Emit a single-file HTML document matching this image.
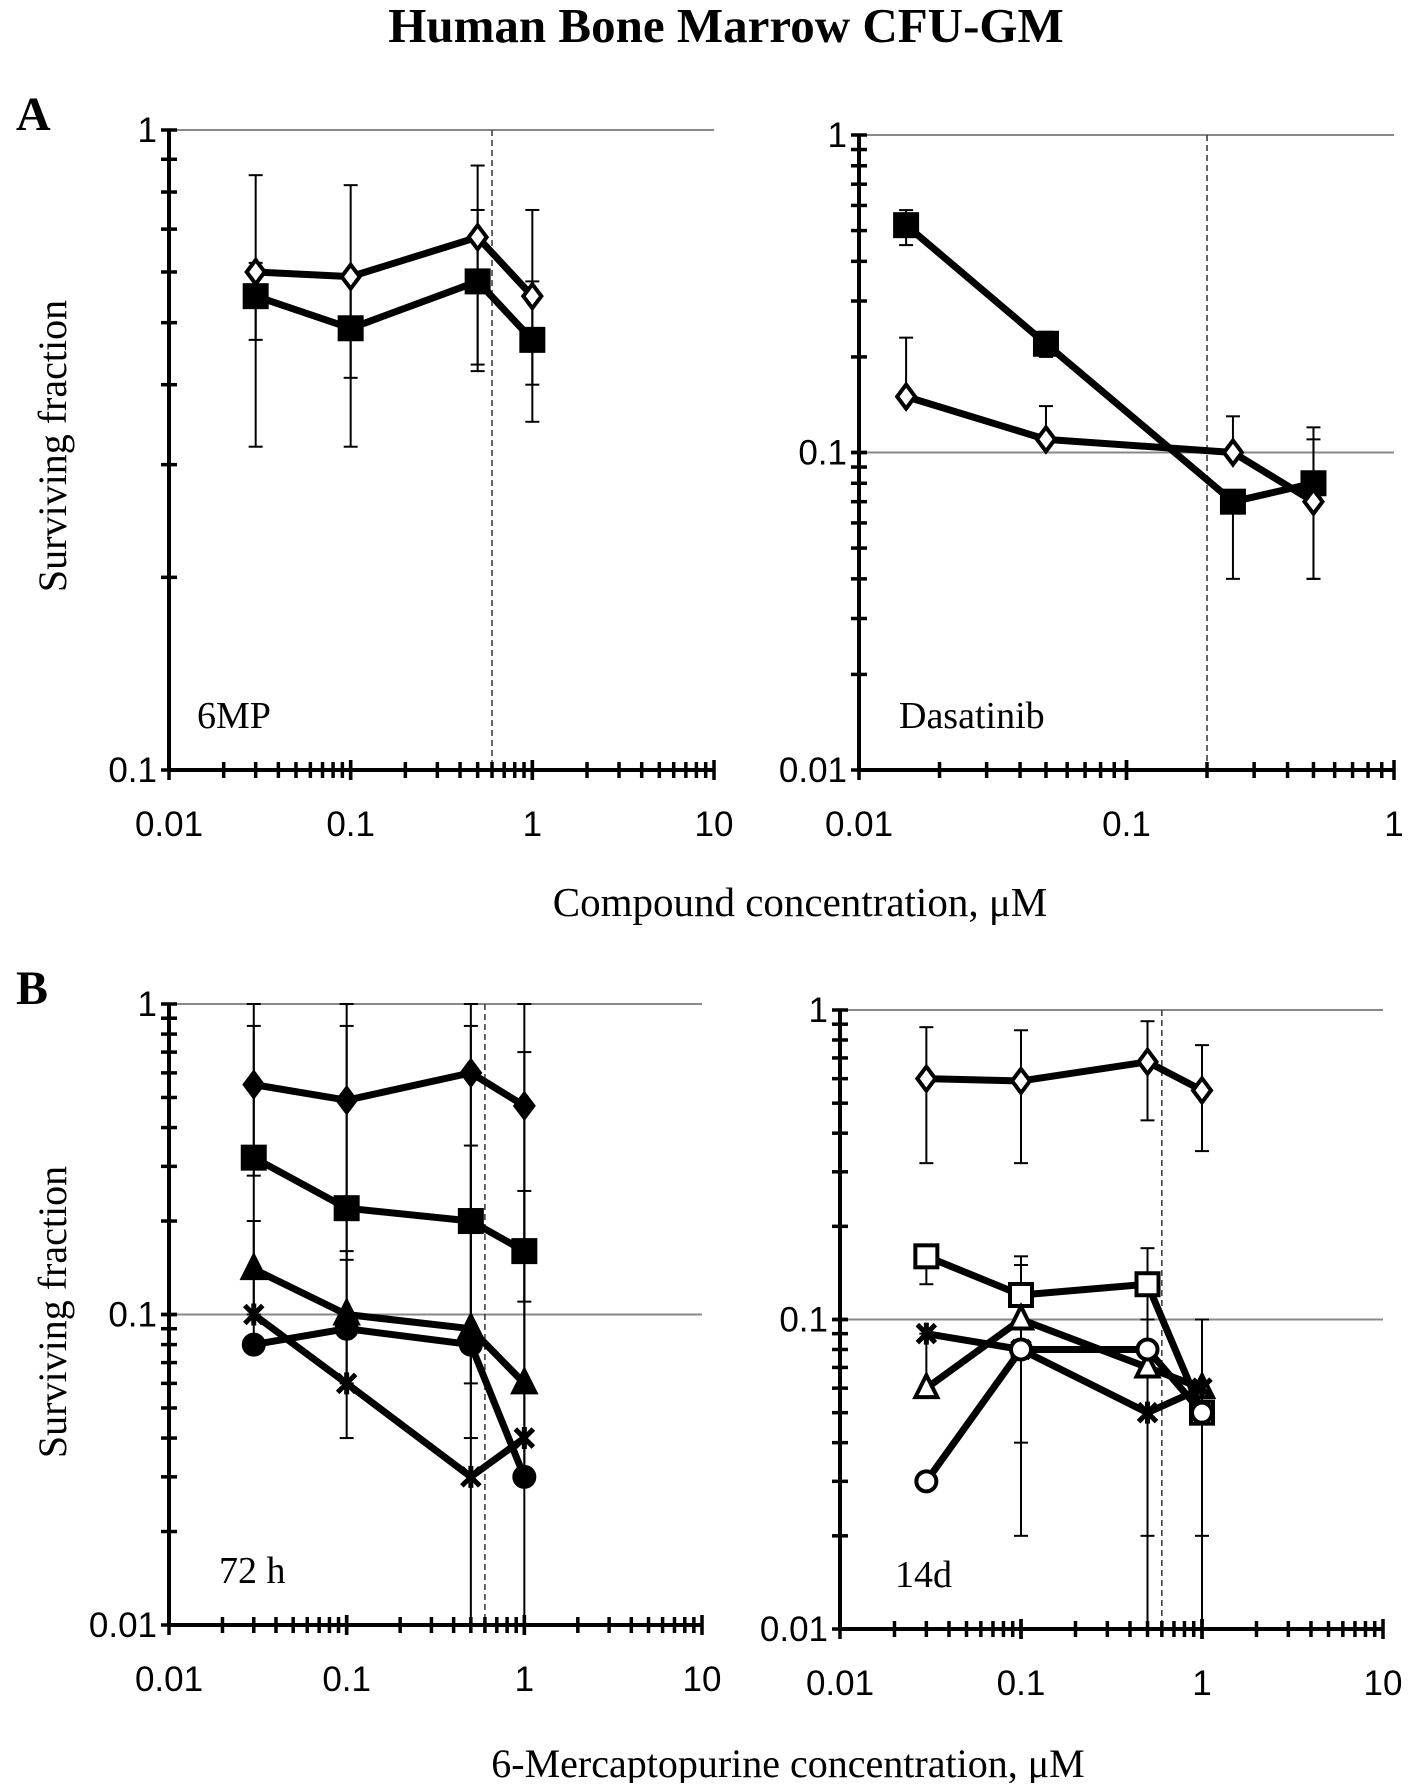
<!DOCTYPE html>
<html><head><meta charset="utf-8"><style>
body{margin:0;background:#fff}
svg text{font-family:"Liberation Sans",sans-serif}
.serif{font-family:"Liberation Serif",serif}
</style></head><body>
<svg id="fig" width="1417" height="1783" viewBox="0 0 1417 1783" xmlns="http://www.w3.org/2000/svg">
<text class="serif" x="726" y="42" text-anchor="middle" font-size="49" font-weight="bold">Human Bone Marrow CFU-GM</text>
<text class="serif" x="16" y="130" font-size="48" font-weight="bold">A</text>
<text class="serif" x="16" y="1004" font-size="48" font-weight="bold">B</text>
<text class="serif" transform="translate(66,446) rotate(-90)" text-anchor="middle" font-size="40">Surviving fraction</text>
<text class="serif" transform="translate(66,1312) rotate(-90)" text-anchor="middle" font-size="40">Surviving fraction</text>
<text class="serif" x="800" y="916" text-anchor="middle" font-size="41">Compound concentration, μM</text>
<text class="serif" x="788" y="1777" text-anchor="middle" font-size="40">6-Mercaptopurine concentration, μM</text>
</svg>
<script>
// Panel A left (6MP)
const aLeftX = [0.03, 0.1, 0.5, 1];
const aLeftDiamond = [0.60, 0.59, 0.68, 0.55];
const aLeftDiamondHi = [0.85, 0.82, 0.88, 0.75];
const aLeftDiamondLo = [0.32, 0.32, 0.42, 0.35];
const aLeftSquare = [0.55, 0.49, 0.58, 0.47];
const aLeftSquareHi = [0.62, 0.60, 0.75, 0.58];
const aLeftSquareLo = [0.47, 0.41, 0.43, 0.40];
// Panel A right (Dasatinib)
const aRightX = [0.015, 0.05, 0.25, 0.5];
const aRightSquare = [0.52, 0.22, 0.07, 0.08];
const aRightSquareHi = [0.58, 0.24, 0.07, 0.11];
const aRightSquareLo = [0.45, 0.20, 0.04, 0.04];
const aRightDiamond = [0.15, 0.11, 0.10, 0.07];
const aRightDiamondHi = [0.23, 0.14, 0.13, 0.12];
const aRightDiamondLo = [0.15, 0.11, 0.10, 0.04];
// Panel B left (72 h)
const bLeftX = [0.03, 0.1, 0.5, 1];
const bLeftDiamond = [0.55, 0.49, 0.60, 0.47];
const bLeftDiamondHi = [1, 1, 1, 1];
const bLeftDiamondLo = [0.08, 0.04, 0.01, 0.01];
const bLeftSquare = [0.32, 0.22, 0.20, 0.16];
const bLeftSquareHi = [0.85, 0.85, 0.85, 0.70];
const bLeftSquareLo = [0.28, 0.15, 0.04, 0.11];
const bLeftTriangle = [0.14, 0.10, 0.09, 0.06];
const bLeftTriangleHi = [0.20, 0.16, 0.35, 0.25];
const bLeftTriangleLo = [0.10, 0.06, 0.06, 0.03];
const bLeftStar = [0.10, 0.06, 0.03, 0.04];
const bLeftCircle = [0.08, 0.09, 0.08, 0.03];
// Panel B right (14d)
const bRightX = [0.03, 0.1, 0.5, 1];
const bRightDiamond = [0.60, 0.59, 0.68, 0.55];
const bRightDiamondHi = [0.88, 0.86, 0.92, 0.77];
const bRightDiamondLo = [0.32, 0.32, 0.44, 0.35];
const bRightSquare = [0.16, 0.12, 0.13, 0.05];
const bRightSquareHi = [0.16, 0.16, 0.17, 0.10];
const bRightSquareLo = [0.13, 0.02, 0.01, 0.01];
const bRightTriangle = [0.06, 0.10, 0.07, 0.06];
const bRightTriangleHi = [0.09, 0.15, 0.10, 0.10];
const bRightTriangleLo = [0.06, 0.04, 0.02, 0.02];
const bRightStar = [0.09, 0.08, 0.05, 0.06];
const bRightCircle = [0.03, 0.08, 0.08, 0.05];

const NS = "http://www.w3.org/2000/svg";
const svg = document.getElementById('fig');
function mk(tag, attrs, parent){const e=document.createElementNS(NS,tag);for(const k in attrs)e.setAttribute(k,attrs[k]);(parent||svg).appendChild(e);return e;}

function panel(p){
  const g = mk('g',{});
  
  
  const lx0=Math.log10(p.xmin), lx1=Math.log10(p.xmax), ly0=Math.log10(p.ymin), ly1=Math.log10(p.ymax);
  const X=v=>p.x0+(Math.log10(v)-lx0)/(lx1-lx0)*(p.x1-p.x0);
  const Y=v=>p.y0-(Math.log10(v)-ly0)/(ly1-ly0)*(p.y0-p.y1);
  for(let d=ly0+1; d<=ly1; d++){
    const gl=mk('line',{x1:p.x0,x2:p.x1,y1:Y(Math.pow(10,d)),y2:Y(Math.pow(10,d)),stroke:'#888','stroke-width':2},g);
    
    
  }
  const dl=mk('line',{x1:X(p.dash),x2:X(p.dash),y1:p.y1,y2:p.y0,stroke:'#333','stroke-width':1.5,'stroke-dasharray':'6,4'},g);
  
  
  const ya=mk('line',{x1:p.x0,x2:p.x0,y1:p.y1,y2:p.y0,stroke:'#000','stroke-width':4},g);
  
  
  const xa=mk('line',{x1:p.x0,x2:p.x1,y1:p.y0,y2:p.y0,stroke:'#000','stroke-width':4},g);
  
  
  for(let d=ly0; d<ly1; d++){
    for(let m=1;m<=10;m++){
      const yy=Y(m*Math.pow(10,d));
      mk('line',{x1:p.x0-8,x2:p.x0+8,y1:yy,y2:yy,stroke:'#000','stroke-width':3.5},g);
    }
  }
  for(let d=ly0; d<=ly1; d++){
    const v=Math.pow(10,d);
    const t=mk('text',{x:p.x0-12,y:Y(v)+12,'text-anchor':'end','font-size':35},g);
    t.textContent=p.ylab[d-ly0];
    
    
  }
  for(let d=lx0; d<lx1; d++){
    for(let m=1;m<=10;m++){
      const xx=X(m*Math.pow(10,d));
      const big=(m===1||m===10);
      mk('line',{x1:xx,x2:xx,y1:p.y0-(big?10:8),y2:p.y0+(big?10:8),stroke:'#000','stroke-width':3.5},g);
    }
  }
  for(let d=lx0; d<=lx1; d++){
    const t=mk('text',{x:X(Math.pow(10,d)),y:p.y0+66,'text-anchor':'middle','font-size':35},g);
    t.textContent=p.xlab[d-lx0];
    
    
  }
  const lab=mk('text',{x:p.x0+(p.labdx||45),y:p.y0-42,'font-size':38,class:'serif'},g);
  lab.textContent=p.label;
  
  
  p.series.forEach(s=>{
    if(!s.hi) return;
    s.v.forEach((v,i)=>{
      const xx=X(p.xs[i]);
      const e=mk('line',{x1:xx,x2:xx,y1:Y(s.hi[i]),y2:Y(s.lo[i]),stroke:'#000','stroke-width':2},g);
      
      
      [s.hi[i],s.lo[i]].forEach(c=>mk('line',{x1:xx-7,x2:xx+7,y1:Y(c),y2:Y(c),stroke:'#000','stroke-width':2},g));
    });
  });
  p.series.forEach(s=>{
    const pts=s.v.map((v,i)=>X(p.xs[i])+','+Y(v)).join(' ');
    const pl=mk('polyline',{points:pts,fill:'none',stroke:'#000','stroke-width':7,'stroke-linejoin':'round'},g);
    
    
    s.v.forEach((v,i)=>{
      const cx=X(p.xs[i]), cy=Y(v);
      const fill=s.filled?'#000':'#fff';
      let m;
      if(s.shape==='diamond') m=mk('polygon',{points:`${cx},${cy-12} ${cx+9},${cy} ${cx},${cy+12} ${cx-9},${cy}`,fill,stroke:'#000','stroke-width':4},g);
      else if(s.shape==='square') m=mk('rect',{x:cx-11,y:cy-11,width:22,height:22,fill,stroke:'#000','stroke-width':4},g);
      else if(s.shape==='triangle') m=mk('polygon',{points:`${cx},${cy-13} ${cx+11},${cy+9} ${cx-11},${cy+9}`,fill,stroke:'#000','stroke-width':4},g);
      else if(s.shape==='circle') m=mk('circle',{cx,cy,r:10,fill,stroke:'#000','stroke-width':4},g);
      else { m=mk('path',{d:`M${cx-9},${cy-9}L${cx+9},${cy+9}M${cx+9},${cy-9}L${cx-9},${cy+9}M${cx},${cy-11}L${cx},${cy+11}`,stroke:'#000','stroke-width':5,fill:'none'},g); }
      
      
    });
  });
}

panel({name:'panel-a-6mp',x0:169,x1:714,y0:770,y1:130,xmin:0.01,xmax:10,ymin:0.1,ymax:1,dash:0.6,
  ylab:['0.1','1'],xlab:['0.01','0.1','1','10'],label:'6MP',labdx:28,xs:aLeftX,
  series:[{name:'diamond',shape:'diamond',filled:false,v:aLeftDiamond,hi:aLeftDiamondHi,lo:aLeftDiamondLo},
          {name:'square',shape:'square',filled:true,v:aLeftSquare,hi:aLeftSquareHi,lo:aLeftSquareLo}]});
panel({name:'panel-a-dasatinib',x0:859,x1:1394,y0:770,y1:135,xmin:0.01,xmax:1,ymin:0.01,ymax:1,dash:0.2,
  ylab:['0.01','0.1','1'],xlab:['0.01','0.1','1'],label:'Dasatinib',labdx:40,xs:aRightX,
  series:[{name:'square',shape:'square',filled:true,v:aRightSquare,hi:aRightSquareHi,lo:aRightSquareLo},
          {name:'diamond',shape:'diamond',filled:false,v:aRightDiamond,hi:aRightDiamondHi,lo:aRightDiamondLo}]});
panel({name:'panel-b-72h',x0:169,x1:702,y0:1625,y1:1004,xmin:0.01,xmax:10,ymin:0.01,ymax:1,dash:0.6,
  ylab:['0.01','0.1','1'],xlab:['0.01','0.1','1','10'],label:'72 h',labdx:50,xs:bLeftX,
  series:[{name:'diamond',shape:'diamond',filled:true,v:bLeftDiamond,hi:bLeftDiamondHi,lo:bLeftDiamondLo},
          {name:'square',shape:'square',filled:true,v:bLeftSquare,hi:bLeftSquareHi,lo:bLeftSquareLo},
          {name:'triangle',shape:'triangle',filled:true,v:bLeftTriangle,hi:bLeftTriangleHi,lo:bLeftTriangleLo},
          {name:'star',shape:'star',filled:true,v:bLeftStar},
          {name:'circle',shape:'circle',filled:true,v:bLeftCircle}]});
panel({name:'panel-b-14d',x0:840,x1:1383,y0:1629,y1:1010,xmin:0.01,xmax:10,ymin:0.01,ymax:1,dash:0.6,
  ylab:['0.01','0.1','1'],xlab:['0.01','0.1','1','10'],label:'14d',labdx:55,xs:bRightX,
  series:[{name:'diamond',shape:'diamond',filled:false,v:bRightDiamond,hi:bRightDiamondHi,lo:bRightDiamondLo},
          {name:'square',shape:'square',filled:false,v:bRightSquare,hi:bRightSquareHi,lo:bRightSquareLo},
          {name:'triangle',shape:'triangle',filled:false,v:bRightTriangle,hi:bRightTriangleHi,lo:bRightTriangleLo},
          {name:'star',shape:'star',filled:true,v:bRightStar},
          {name:'circle',shape:'circle',filled:false,v:bRightCircle}]});
</script>
</body></html>
